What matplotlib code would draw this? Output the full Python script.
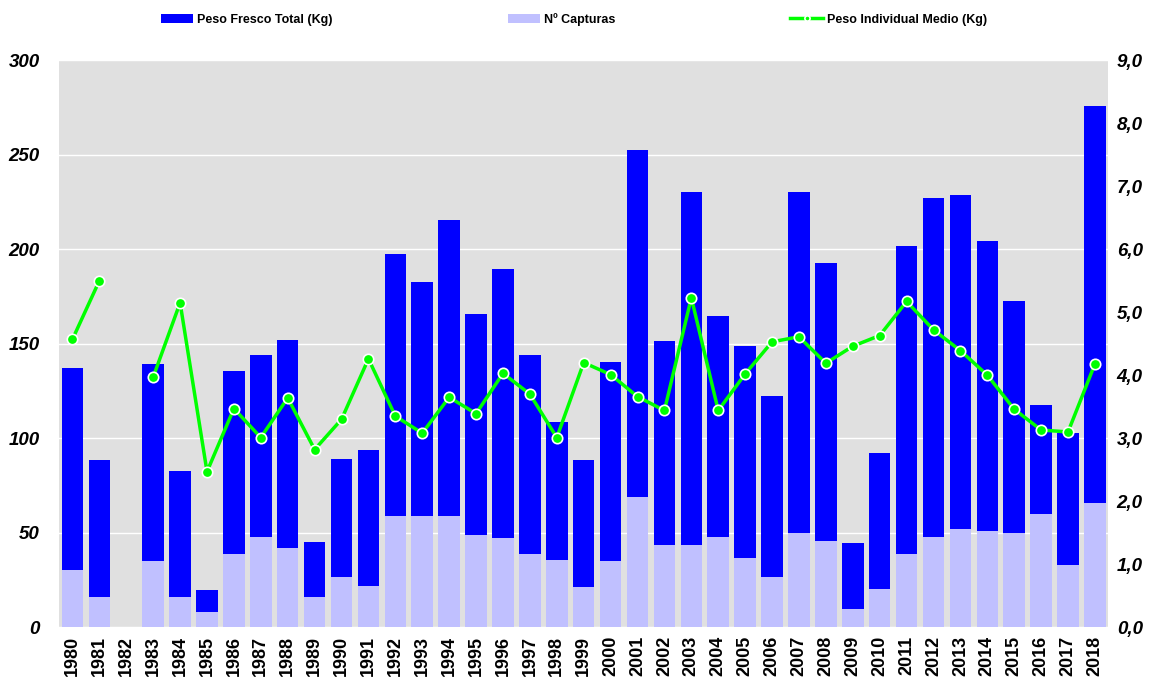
import numpy as np
import matplotlib
matplotlib.use("Agg")
import matplotlib.pyplot as plt
from matplotlib.ticker import FuncFormatter

plt.rcParams['font.family'] = ['Liberation Sans', 'DejaVu Sans']

# -------------------------------------------------
# Dados
# -------------------------------------------------
anos = list(range(1980, 2019))

peso_total = [137.0, 88.3, 0.0, 139.1, 82.4, 19.6, 135.4, 144.1, 152.2, 44.9,
              88.9, 93.9, 197.6, 182.4, 215.6, 165.8, 189.7, 144.1, 108.5, 88.3,
              140.3, 252.4, 151.6, 230.4, 164.6, 148.6, 122.3, 230.4, 192.7, 44.5,
              92.1, 201.6, 227.1, 228.7, 204.5, 172.7, 117.8, 102.6, 275.9]

capturas = [30.2, 16.0, 0.0, 35.2, 16.0, 8.1, 38.7, 48.0, 42.1, 16.0,
            26.7, 21.9, 58.7, 58.7, 58.7, 48.8, 47.2, 38.7, 35.8, 21.1,
            35.2, 69.0, 43.7, 43.7, 48.0, 36.6, 26.7, 50.0, 45.7, 9.9,
            20.0, 38.7, 48.0, 52.2, 50.8, 50.0, 59.9, 33.0, 65.8]

peso_medio = [4.57, 5.50, np.nan, 3.97, 5.15, 2.47, 3.47, 3.01, 3.64, 2.82,
              3.30, 4.26, 3.35, 3.08, 3.65, 3.39, 4.03, 3.70, 3.01, 4.20,
              4.01, 3.66, 3.44, 5.23, 3.44, 4.02, 4.53, 4.61, 4.19, 4.46,
              4.63, 5.17, 4.72, 4.39, 4.00, 3.46, 3.13, 3.10, 4.18]

# -------------------------------------------------
# Plot
# -------------------------------------------------
fig = plt.figure(figsize=(11.57, 6.84), dpi=100)
ax = fig.add_axes([0.051, 0.083, 0.907, 0.829])
ax2 = ax.twinx()

x = np.arange(len(anos))
c_total = "#0000ff"
c_capt = "#c0c0ff"
c_linha = "#00ff00"

ax.set_facecolor("#e0e0e0")
ax.bar(x, peso_total, width=0.8, color=c_total, zorder=2, label="Peso Fresco Total (Kg)")
ax.bar(x, capturas, width=0.8, color=c_capt, zorder=3, label="Nº Capturas")

ax2.plot(x, peso_medio, color=c_linha, linewidth=2.5, marker="o", markersize=7.5,
         markerfacecolor=c_linha, markeredgecolor="white", markeredgewidth=1.2,
         label="Peso Individual Medio (Kg)", zorder=5)

# eixos
ax.set_xlim(-0.5, len(anos) - 0.5)
ax.set_ylim(0, 300)
ax.set_yticks(np.arange(0, 301, 50))
ax2.set_ylim(0, 9)
ax2.set_yticks(np.arange(0, 9.1, 1))
ax2.yaxis.set_major_formatter(FuncFormatter(lambda v, p: f"{v:.1f}".replace(".", ",")))

ax.set_xticks(x)
ax.set_xticklabels([str(a) for a in anos], rotation=90, fontsize=13, fontweight="bold")

for a in (ax, ax2):
    for s in a.spines.values():
        s.set_visible(False)
    a.tick_params(length=0)
for lbl in ax.get_yticklabels() + ax2.get_yticklabels():
    lbl.set_fontsize(13.5)
    lbl.set_fontweight("bold")
    lbl.set_fontstyle("italic")
ax.tick_params(axis="y", pad=14)
ax2.tick_params(axis="y", pad=6)
ax.tick_params(axis="x", pad=6)

ax.grid(axis="y", color="white", linewidth=1, zorder=1)
ax.set_axisbelow(True)

# legenda
h1, l1 = ax.get_legend_handles_labels()
h2, l2 = ax2.get_legend_handles_labels()
fig.legend(h1 + h2, l1 + l2, loc="center", bbox_to_anchor=(0.496, 0.972), ncol=3,
           frameon=False, prop={"size": 9, "weight": "bold"},
           columnspacing=14, handlelength=2.6, handletextpad=0.3, markerscale=0.5)

fig.savefig("out.png", dpi=100)
